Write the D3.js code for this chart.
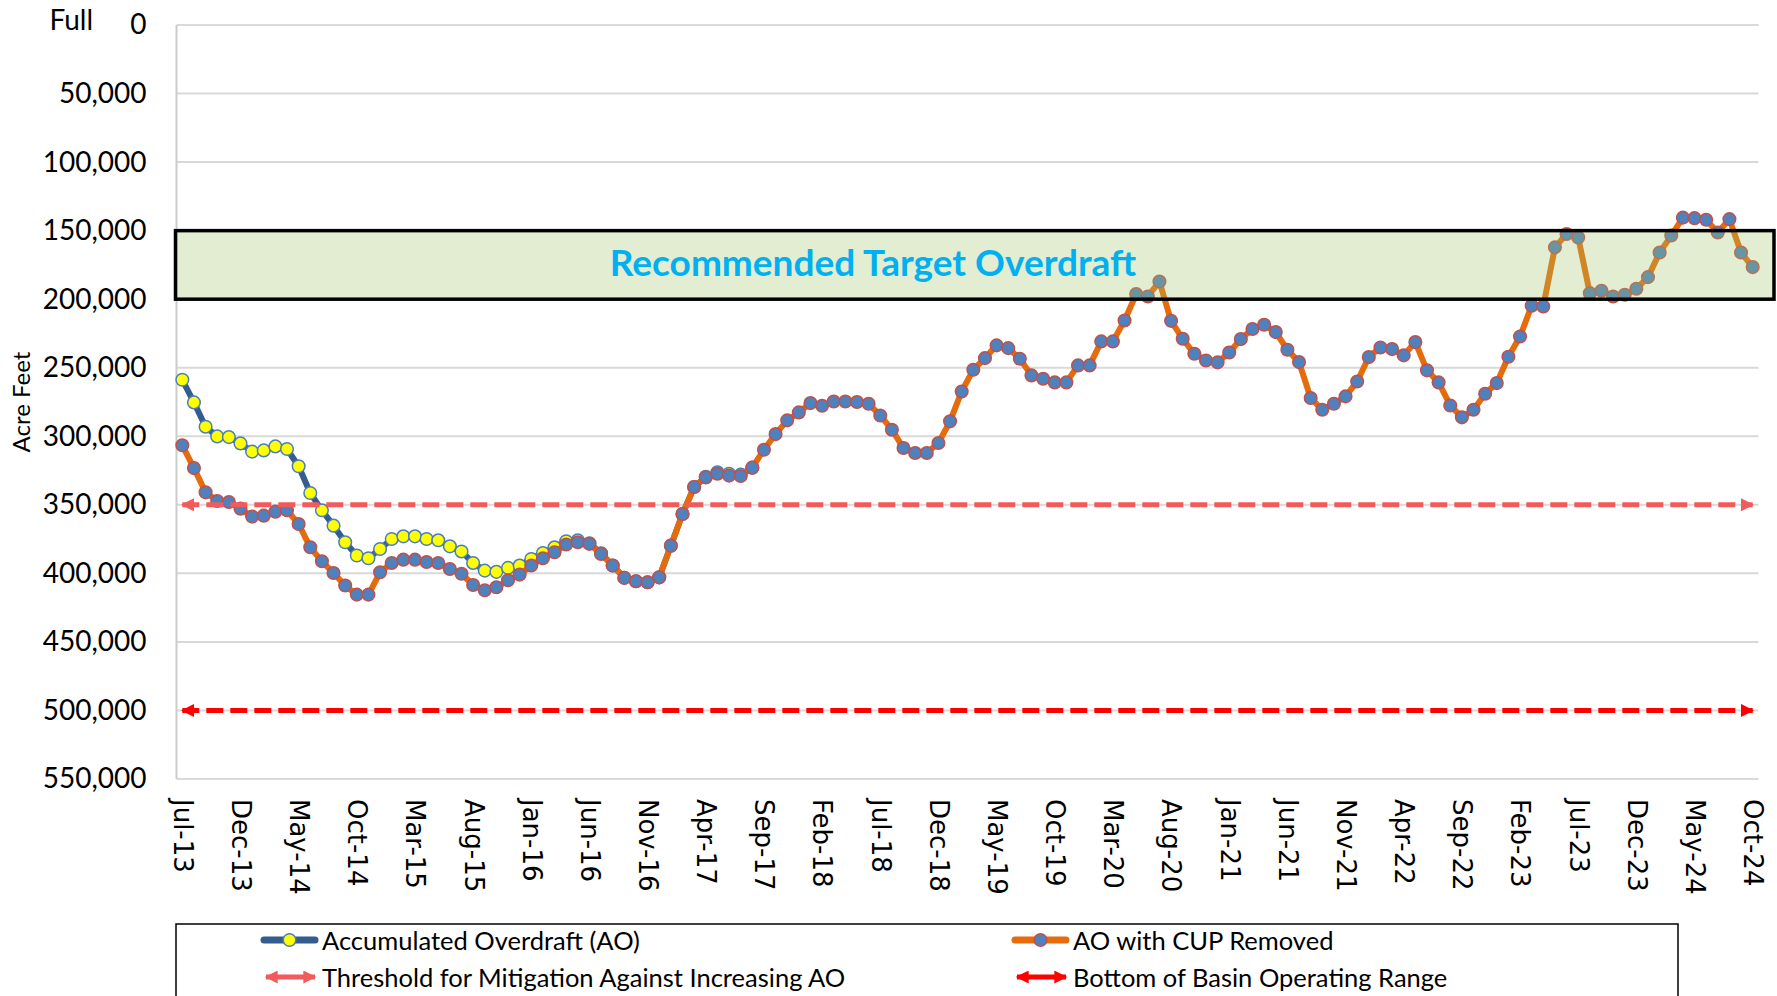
<!DOCTYPE html>
<html>
<head>
<meta charset="utf-8">
<script src="https://cdn.jsdelivr.net/npm/d3@7"></script>
<style>
  body { margin: 0; background: #fff; }
  svg { display: block; }
</style>
</head>
<body>
<script>
const width = 1777, height = 996;

// monthly categories Jul-13 .. Oct-24
const months = d3.timeMonth.range(new Date(2013, 6, 1), new Date(2024, 10, 1)).map(d3.timeFormat('%b-%y'));

const tickLabels = ['Jul-13','Dec-13','May-14','Oct-14','Mar-15','Aug-15','Jan-16','Jun-16','Nov-16',
  'Apr-17','Sep-17','Feb-18','Jul-18','Dec-18','May-19','Oct-19','Mar-20','Aug-20','Jan-21','Jun-21',
  'Nov-21','Apr-22','Sep-22','Feb-23','Jul-23','Dec-23','May-24','Oct-24'];

const yTicks = [0, 50000, 100000, 150000, 200000, 250000, 300000, 350000, 400000, 450000, 500000, 550000];

// AO with CUP removed (acre feet), one value per month
const aoCupRemoved = [
  306600, 323200, 340900, 347200, 347900, 352800, 358600, 357900, 355000, 354000,
  364000, 381000, 391200, 399700, 408900, 415500, 415500, 399200, 392400, 390000,
  390000, 391700, 392400, 396800, 400300, 408500, 412300, 410100, 405000, 400900,
  394300, 389000, 384600, 379000, 377300, 378500, 385800, 394300, 403300, 405700,
  406500, 402900, 379800, 356700, 337000, 330000, 327300, 328700, 329000, 322900,
  309800, 298400, 288400, 282600, 275800, 277700, 274600, 274600, 275000, 276300,
  284800, 295200, 308600, 312200, 312200, 304900, 289100, 267300, 251500, 243000,
  233700, 235700, 243400, 255600, 258000, 260700, 260700, 248300, 248300, 230800,
  230800, 215500, 196300, 198000, 187100, 215800, 228900, 239800, 244700, 246100,
  238900, 229100, 221800, 218700, 224000, 236900, 245900, 272100, 280600, 276300,
  270900, 260000, 242200, 235200, 236400, 241000, 231300, 251900, 260700, 277500,
  286200, 280600, 269000, 261200, 242000, 227200, 204800, 205300, 162200, 152500,
  155000, 195600, 193900, 198000, 196800, 192400, 183900, 166000, 153600, 140500,
  140900, 142100, 151400, 141600, 166000, 176600
];

// Accumulated overdraft; after mid-2016 it sits under the CUP-removed series
const accumulatedOverdraft = [
  258800, 275300, 293000, 300100, 300600, 305200, 311200, 310300, 307400, 309300,
  321900, 341400, 354000, 365200, 377300, 387000, 389000, 382200, 374900, 373000,
  373000, 374900, 375900, 380300, 384000, 392400, 398000, 398900, 396000, 394300,
  389500, 385100, 381000, 376600, 375900, 378000, 385300, 394300, 403300, 405700,
  406500, 402900, 379800, 356700, 337000, 329600, 326300, 327300, 328000, 322900
];

const thresholdAO = 350000;
const basinBottom = 500000;
const targetRange = [150000, 200000];

const plotLeft = 176.5, plotRight = 1758.5, plotTop = 25, plotBottom = 779;

const svg = d3.select('body').append('svg')
  .attr('width', width)
  .attr('height', height);

const x = d3.scalePoint().domain(months).range([plotLeft, plotRight]).padding(0.5);
const y = d3.scaleLinear().domain([0, 550000]).range([plotTop, plotBottom]);

// arrow heads for the dashed reference lines
const defs = svg.append('defs');
[['arrowLight', '#F25B5B'], ['arrowRed', '#FF0000']].forEach(([id, col]) => {
  defs.append('marker')
    .attr('id', id)
    .attr('viewBox', '0 0 10 10')
    .attr('refX', 9).attr('refY', 5)
    .attr('markerUnits', 'userSpaceOnUse')
    .attr('markerWidth', 18).attr('markerHeight', 13)
    .attr('orient', 'auto-start-reverse')
    .append('path')
    .attr('d', 'M0,0 L10,5 L0,10 Z')
    .attr('fill', col);
});

// gridlines
svg.append('g')
  .selectAll('line')
  .data(yTicks)
  .join('line')
  .attr('x1', plotLeft).attr('x2', plotRight)
  .attr('y1', d => y(d)).attr('y2', d => y(d))
  .attr('stroke', '#D9D9D9')
  .attr('stroke-width', 2);

svg.append('line')
  .attr('x1', plotLeft).attr('x2', plotLeft)
  .attr('y1', plotTop).attr('y2', plotBottom)
  .attr('stroke', '#CCCCCC')
  .attr('stroke-width', 2);

// y axis
svg.append('g')
  .attr('transform', `translate(${plotLeft},0)`)
  .call(d3.axisLeft(y).tickValues(yTicks).tickSize(0).tickPadding(30).tickFormat(d3.format(',')))
  .call(g => g.select('.domain').remove())
  .selectAll('text')
  .attr('font-family', 'Lato, sans-serif')
  .attr('font-size', 28)
  .attr('fill', '#000');

svg.append('text')
  .attr('x', 93).attr('y', 19)
  .attr('text-anchor', 'end')
  .attr('dominant-baseline', 'central')
  .attr('font-family', 'Lato, sans-serif')
  .attr('font-size', 28)
  .text('Full');

svg.append('text')
  .attr('transform', `translate(20,${(plotTop + plotBottom) / 2}) rotate(-90)`)
  .attr('text-anchor', 'middle')
  .attr('dominant-baseline', 'central')
  .attr('font-family', 'Lato, sans-serif')
  .attr('font-size', 24)
  .text('Acre Feet');

// x axis
svg.append('g')
  .attr('transform', `translate(0,${plotBottom})`)
  .call(d3.axisBottom(x).tickValues(tickLabels).tickSize(0))
  .call(g => g.select('.domain').remove())
  .selectAll('text')
  .attr('transform', 'rotate(90)')
  .attr('x', 20).attr('y', 0)
  .attr('dy', '0.35em')
  .attr('text-anchor', 'start')
  .attr('font-family', '"DejaVu Sans", Verdana, sans-serif')
  .attr('font-size', 26)
  .attr('fill', '#000');

// series
function drawSeries(values, lineColor, markerFill, markerStroke) {
  const pts = values.map((v, i) => [months[i], v]);
  const g = svg.append('g');
  g.append('path')
    .datum(pts)
    .attr('fill', 'none')
    .attr('stroke', lineColor)
    .attr('stroke-width', 6)
    .attr('stroke-linejoin', 'round')
    .attr('d', d3.line().x(d => x(d[0])).y(d => y(d[1])));
  g.selectAll('circle')
    .data(pts)
    .join('circle')
    .attr('cx', d => x(d[0]))
    .attr('cy', d => y(d[1]))
    .attr('r', 6.3)
    .attr('fill', markerFill)
    .attr('stroke', markerStroke)
    .attr('stroke-width', 1.5);
}

drawSeries(accumulatedOverdraft, '#335C8F', '#FFFF00', '#4A7EBB');
drawSeries(aoCupRemoved, '#E46C0A', '#4F81BD', '#C0504D');

// reference lines
function refLine(val, color, marker) {
  svg.append('line')
    .attr('x1', x(months[0])).attr('x2', x(months[months.length - 1]))
    .attr('y1', y(val)).attr('y2', y(val))
    .attr('stroke', color)
    .attr('stroke-width', 5)
    .attr('stroke-dasharray', '17,7')
    .attr('marker-start', `url(#${marker})`)
    .attr('marker-end', `url(#${marker})`);
}
refLine(thresholdAO, '#F25B5B', 'arrowLight');
refLine(basinBottom, '#FF0000', 'arrowRed');

// recommended target band
svg.append('rect')
  .attr('x', plotLeft - 1)
  .attr('y', y(targetRange[0]))
  .attr('width', width - 2 - plotLeft)
  .attr('height', y(targetRange[1]) - y(targetRange[0]))
  .attr('fill', '#A3C266')
  .attr('fill-opacity', 0.3)
  .attr('stroke', '#000')
  .attr('stroke-width', 3.5);

svg.append('text')
  .attr('x', 873)
  .attr('y', (y(targetRange[0]) + y(targetRange[1])) / 2 - 3)
  .attr('text-anchor', 'middle')
  .attr('dominant-baseline', 'central')
  .attr('font-family', 'Lato, sans-serif')
  .attr('font-weight', 'bold')
  .attr('font-size', 37)
  .attr('fill', '#00B0F0')
  .text('Recommended Target Overdraft');

// legend
const legend = svg.append('g');
legend.append('rect')
  .attr('x', 176).attr('y', 924)
  .attr('width', 1502).attr('height', 100)
  .attr('fill', '#fff')
  .attr('stroke', '#000')
  .attr('stroke-width', 1.5);

const legendItems = [
  { label: 'Accumulated Overdraft (AO)', type: 'series', line: '#335C8F', fill: '#FFFF00', stroke: '#4A7EBB', x: 264, y: 940 },
  { label: 'AO with CUP Removed', type: 'series', line: '#E46C0A', fill: '#4F81BD', stroke: '#C0504D', x: 1015, y: 940 },
  { label: 'Threshold for Mitigation Against Increasing AO', type: 'arrow', line: '#F25B5B', marker: 'arrowLight', x: 266, y: 977 },
  { label: 'Bottom of Basin Operating Range', type: 'arrow', line: '#FF0000', marker: 'arrowRed', x: 1017, y: 977 }
];

legendItems.forEach(d => {
  if (d.type === 'series') {
    legend.append('line')
      .attr('x1', d.x).attr('x2', d.x + 51)
      .attr('y1', d.y).attr('y2', d.y)
      .attr('stroke', d.line)
      .attr('stroke-width', 7)
      .attr('stroke-linecap', 'round');
    legend.append('circle')
      .attr('cx', d.x + 25.5).attr('cy', d.y)
      .attr('r', 6.3)
      .attr('fill', d.fill)
      .attr('stroke', d.stroke)
      .attr('stroke-width', 1.5);
  } else {
    legend.append('line')
      .attr('x1', d.x).attr('x2', d.x + 49)
      .attr('y1', d.y).attr('y2', d.y)
      .attr('stroke', d.line)
      .attr('stroke-width', 5)
      .attr('marker-start', `url(#${d.marker})`)
      .attr('marker-end', `url(#${d.marker})`);
  }
  legend.append('text')
    .attr('x', d.x + 58 - (d.type === 'arrow' ? 2 : 0))
    .attr('y', d.y)
    .attr('dominant-baseline', 'central')
    .attr('font-family', 'Lato, sans-serif')
    .attr('font-size', 25.5)
    .text(d.label);
});
</script>
</body>
</html>
